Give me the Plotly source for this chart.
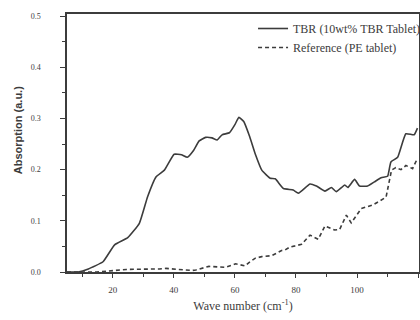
import plotly.graph_objects as go

# TBR (10wt% TBR tablet) - solid
tbr_x = [5, 8.6, 12, 16.8, 20.6, 24.9, 28.7, 31.4, 34.2, 36.9, 40.1, 42.5, 44.4, 46.5, 48.3, 50.4,
         52.5, 54.2, 55.8, 58.2, 60.0, 61.3, 62.9, 64.8, 66.7, 68.8, 71.6, 73.2, 75.9, 79.1, 80.8,
         84.6, 86.7, 89.5, 91.6, 93.2, 96.0, 97.0, 99.2, 100.8, 103.5, 105.7, 107.9, 110.0, 111.1,
         113.3, 116.0, 118.7, 119.8]
tbr_y = [0.0, 0.0, 0.006, 0.020, 0.053, 0.067, 0.095, 0.147, 0.186, 0.199, 0.230, 0.229, 0.224, 0.238,
         0.256, 0.263, 0.262, 0.258, 0.268, 0.272, 0.288, 0.302, 0.294, 0.265, 0.230, 0.199, 0.183,
         0.182, 0.163, 0.160, 0.154, 0.172, 0.168, 0.158, 0.165, 0.157, 0.170, 0.165, 0.181, 0.168,
         0.168, 0.176, 0.184, 0.187, 0.215, 0.224, 0.270, 0.268, 0.281]

# Reference (PE tablet) - dashed
ref_x = [5, 14.7, 24.4, 26.5, 35.2, 37.4, 46.0, 47.2, 51.5, 56.9, 60.2, 63.4, 64.5, 66.7, 68.8,
         72.1, 75.3, 76.4, 78.1, 79.7, 81.8, 84.6, 87.3, 89.5, 92.7, 94.3, 96.5, 98.1, 101.4, 105.2,
         109.5, 111.3, 112.7, 114.4, 116.0, 118.2, 119.8]
ref_y = [0.0, 0.0, 0.005, 0.005, 0.006, 0.007, 0.003, 0.004, 0.011, 0.009, 0.016, 0.012, 0.018, 0.027,
         0.030, 0.032, 0.042, 0.043, 0.049, 0.051, 0.054, 0.072, 0.064, 0.090, 0.082, 0.083, 0.111,
         0.096, 0.124, 0.131, 0.146, 0.199, 0.204, 0.200, 0.208, 0.202, 0.222]

x_ticks = [20, 40, 60, 80, 100, 120]
y_ticks = [0.0, 0.1, 0.2, 0.3, 0.4, 0.5]
y_labels = ["0.0", "0.1", "0.2", "0.3", "0.4", "0.5"]

ink = "#3c3c3c"
serif = "Liberation Serif"

fig = go.Figure()
fig.add_trace(go.Scatter(x=tbr_x, y=tbr_y, mode="lines", name="TBR (10wt% TBR Tablet)",
                         line=dict(color=ink, width=1.6, shape="spline", smoothing=0.4)))
fig.add_trace(go.Scatter(x=ref_x, y=ref_y, mode="lines", name="Reference (PE tablet)",
                         line=dict(color=ink, width=1.6, dash="4px,3px")))

fig.update_layout(
    width=420, height=320,
    margin=dict(l=67, r=1, t=14, b=48, autoexpand=False),
    paper_bgcolor="white", plot_bgcolor="white",
    showlegend=True,
    legend=dict(x=1.02, xanchor="right", y=1.0, yanchor="top", bgcolor="rgba(0,0,0,0)",
                font=dict(family=serif, size=12, color=ink), itemwidth=30,
                tracegroupgap=0),
    font=dict(family=serif, color=ink),
    annotations=[dict(text="<b>Absorption (a.u.)</b>", xref="paper", yref="paper",
                      x=-0.139, y=0.55, xanchor="center", yanchor="middle", textangle=-90,
                      showarrow=False,
                      font=dict(family="Liberation Sans", size=11, color=ink))],
)
fig.update_xaxes(range=[5, 120.3], tickvals=x_ticks, ticktext=[str(v) for v in x_ticks],
                 showgrid=False, zeroline=False, showline=True, linecolor=ink, linewidth=1.5,
                 mirror=True, ticks="outside", ticklen=4, tickcolor=ink, tickwidth=1,
                 minor=dict(tickvals=[10, 30, 50, 70, 90, 110], ticks="outside", ticklen=3, tickcolor=ink),
                 tickfont=dict(family=serif, size=9, color=ink), ticklabelstandoff=4,
                 title=dict(text="Wave number (cm<sup>-1</sup>)", standoff=8,
                            font=dict(family=serif, size=12, color=ink)))
fig.update_yaxes(range=[0, 0.504], tickvals=y_ticks, ticktext=y_labels,
                 showgrid=False, zeroline=False, showline=True, linecolor=ink, linewidth=1.5,
                 mirror=True, ticks="outside", ticklen=5, tickcolor=ink, tickwidth=1,
                 minor=dict(tickvals=[0.05, 0.15, 0.25, 0.35, 0.45], ticks="outside", ticklen=3, tickcolor=ink),
                 tickfont=dict(family=serif, size=8, color=ink), ticklabelstandoff=18)

fig.write_html("out.html", config={"displayModeBar": False},
               post_script="document.body.style.margin='0';document.body.style.overflow='hidden';")
